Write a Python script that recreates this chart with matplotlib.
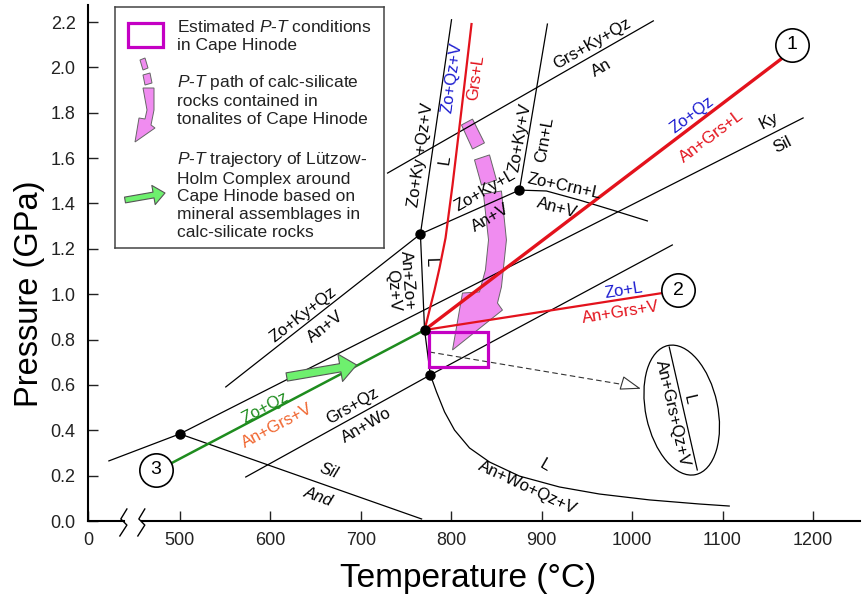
import numpy as np
import matplotlib.pyplot as plt
from matplotlib.patches import Polygon, Rectangle, Ellipse, FancyArrowPatch
from matplotlib.transforms import ScaledTranslation

plt.rcParams['font.family'] = ['Liberation Sans', 'DejaVu Sans']
plt.rcParams['mathtext.fontset'] = 'custom'
plt.rcParams['mathtext.it'] = 'Liberation Sans:italic'
plt.rcParams['mathtext.rm'] = 'Liberation Sans'

# ---- data (T in degC, P in GPa) ----
inv_T = [500, 766, 770.6, 777, 875.5]
inv_P = [0.384, 1.265, 0.842, 0.644, 1.459]

melt_T = [800.4, 766, 770.6, 777]
melt_P = [2.21, 1.265, 0.842, 0.644]
wo_melt_T = [777, 783.8, 792.7, 803.7, 820.3, 842.4, 875.5, 919.7, 963.8, 1019.1, 1074.3, 1107.4]
wo_melt_P = [0.644, 0.569, 0.481, 0.401, 0.322, 0.260, 0.198, 0.150, 0.119, 0.093, 0.075, 0.066]
zoky_T = [550.8, 766, 875.5, 905.3, 941.8, 978.2, 1016.9]
zoky_P = [0.591, 1.265, 1.459, 1.455, 1.415, 1.371, 1.323]
crn_T = [875.5, 906.4]
crn_P = [1.459, 2.191]
grsky_T = [729.7, 1023.5]
grsky_P = [1.534, 2.205]
kyand_T = [421.6, 500]
kyand_P = [0.265, 0.384]
andsil_T = [500, 767.3]
andsil_P = [0.384, 0.009]
kysil_T = [500, 1189.1]
kysil_P = [0.384, 1.777]
grsqz_T = [572.9, 777, 1044.5]
grsqz_P = [0.194, 0.644, 1.217]

grsl_T = [770.6, 776.1, 781.6, 787.1, 793.8, 801.5, 811.4, 822.5]
grsl_P = [0.842, 0.930, 1.018, 1.115, 1.248, 1.481, 1.812, 2.191]
path1_T = [770.6, 1164.8]
path1_P = [0.842, 2.037]
path2_T = [770.6, 1033.4]
path2_P = [0.842, 1.005]
path3_T = [491.2, 770.6]
path3_P = [0.256, 0.842]

circ_T = [1177, 1051, 473.5]
circ_P = [2.099, 1.018, 0.225]
circ_lab = ['1', '2', '3']

box_T = [775.0, 840.2]
box_P = [0.679, 0.833]

dash_T = [776.1, 1005.8]
dash_P = [0.745, 0.591]

ell_T, ell_P = 1054.9, 0.489
ell_line_T = [1041.1, 1072.1]
ell_line_P = [0.767, 0.225]

pink1_T = [811.4, 823.6, 836.8, 823.6]
pink1_P = [1.746, 1.772, 1.667, 1.640]
pink2_T = [825.8, 842.4, 850.1, 833.5]
pink2_P = [1.592, 1.614, 1.503, 1.481]
pink3_T = [835.7, 841.3, 837.9, 831.3, 812.5, 801.5, 856.7, 851.2, 855.6, 861.1, 855.6]
pink3_P = [1.442, 1.239, 1.107, 1.010, 1.005, 0.754, 0.930, 0.961, 1.032, 1.239, 1.455]

garrow_T = [618.2, 695.5]
garrow_P = [0.635, 0.688]

xticks = [398.5, 500, 600, 700, 800, 900, 1000, 1100, 1200]
xtick_labels = ['0', '500', '600', '700', '800', '900', '1000', '1100', '1200']
yticks = [0.0, 0.2, 0.4, 0.6, 0.8, 1.0, 1.2, 1.4, 1.6, 1.8, 2.0, 2.2]

RED = '#e3121c'
BLUE = '#1c1cd0'
GREEN = '#1e8c1e'
ORANGE = '#f0642d'
MAG = '#c400c4'
PINK = '#f08cf0'

labels = [
    ("Grs+Ky+Qz", 956, 2.103, 30, 'k'),
    ("An", 966, 1.997, 30, 'k'),
    ("Zo+Ky +Qz+V", 766, 1.614, 82, 'k'),
    ("L", 792.7, 1.592, 82, 'k'),
    ("Zo+Qz+V", 801.5, 1.953, 82, BLUE),
    ("Grs+L", 826.9, 1.953, 82, RED),
    ("Zo+Ky+V", 876.6, 1.689, 80, 'k'),
    ("Crn+L", 903.1, 1.680, 80, 'k'),
    ("Zo+Ky+L", 838, 1.455, 30, 'k'),
    ("An+V", 843.5, 1.336, 30, 'k'),
    ("Zo+Crn+L", 925.2, 1.473, -12, 'k'),
    ("An+V", 917.5, 1.380, -15, 'k'),
    ("Zo+Qz", 1066.6, 1.790, 37, BLUE),
    ("An+Grs+L", 1087.5, 1.693, 37, RED),
    ("Ky", 1151.6, 1.764, 27, 'k'),
    ("Sil", 1166.0, 1.658, 27, 'k'),
    ("Zo+Ky+Qz", 637, 0.908, 38, 'k'),
    ("An+V", 661.2, 0.855, 38, 'k'),
    ("L", 777.2, 1.142, -88, 'k'),
    ("Zo+Qz", 593.9, 0.498, 28, GREEN),
    ("An+Grs+V", 608.2, 0.419, 28, ORANGE),
    ("Grs+Qz", 691.1, 0.507, 30, 'k'),
    ("An+Wo", 706.5, 0.423, 30, 'k'),
    ("Zo+L", 990.4, 1.018, 9, BLUE),
    ("An+Grs+V", 987.0, 0.921, 9, RED),
    ("L", 903.1, 0.243, -30, 'k'),
    ("An+Wo+Qz+V", 884.3, 0.145, -25, 'k'),
    ("An+Grs+Qz+V", 1044.5, 0.476, -77, 'k'),
    ("L", 1063.2, 0.534, -77, 'k'),
]
italic_labels = [("Sil", 664.6, 0.220, -20), ("And", 653.5, 0.106, -20)]

fig = plt.figure(figsize=(8.64, 5.95), dpi=100)
ax = fig.add_axes([88/864, 1-521/595, 772/864, 516/595])
ax.set_xlim(398.5, 1252)
ax.set_ylim(0, 2.275)

for s in ['top', 'right', 'bottom']:
    ax.spines[s].set_visible(False)
ax.spines['left'].set_linewidth(1.5)
ax.set_xticks(xticks)
ax.set_xticklabels(xtick_labels)
ax.set_yticks(yticks)
ax.set_yticklabels(['%.1f' % v for v in yticks])
ax.tick_params(direction='in', length=7, width=1, labelsize=13, colors='#222222')
ax.tick_params(axis='x', pad=8)
ax.tick_params(axis='y', pad=9)

# broken x axis
ax.plot([398.5, 438.2], [0, 0], color='k', lw=1.5, clip_on=False)
ax.plot([458.0, 1252], [0, 0], color='k', lw=1.5, clip_on=False)
ax.plot([441.5, 434.8, 441.5, 433.7], [0.053, 0.009, -0.018, -0.066], color='k', lw=1, clip_on=False)
ax.plot([461.3, 454.7, 461.3, 453.6], [0.053, 0.009, -0.018, -0.066], color='k', lw=1, clip_on=False)

# pink P-T path of calc-silicate rocks
for pt, pp in [(pink1_T, pink1_P), (pink2_T, pink2_P), (pink3_T, pink3_P)]:
    ax.add_patch(Polygon(np.column_stack([pt, pp]), closed=True, fc=PINK, ec='#666666', lw=0.7, zorder=1))

# black reaction lines
for bt, bp in [(melt_T, melt_P), (wo_melt_T, wo_melt_P), (zoky_T, zoky_P), (crn_T, crn_P),
               (grsky_T, grsky_P), (kyand_T, kyand_P), (andsil_T, andsil_P),
               (kysil_T, kysil_P), (grsqz_T, grsqz_P)]:
    ax.plot(bt, bp, color='k', lw=0.9, zorder=2)

# coloured reaction lines
ax.plot(grsl_T, grsl_P, color=RED, lw=1.6, zorder=3)
ax.plot(path1_T, path1_P, color=RED, lw=2.4, zorder=3)
ax.plot(path2_T, path2_P, color=RED, lw=1.6, zorder=3)
ax.plot(path3_T, path3_P, color=GREEN, lw=1.8, zorder=3)

# green arrow
ax.add_patch(FancyArrowPatch((garrow_T[0], garrow_P[0]), (garrow_T[1], garrow_P[1]),
                             arrowstyle='simple,head_length=0.6,head_width=1.0,tail_width=0.3',
                             mutation_scale=20, fc='#6ef06e', ec='#555555', lw=0.8,
                             shrinkA=0, shrinkB=0, zorder=4))

# dashed arrow to the inset ellipse
ax.plot(dash_T, dash_P, color='#333333', lw=0.8, ls=(0, (5, 3)), zorder=3)
ax.annotate('', xy=(dash_T[1] + 4, dash_P[1] - 0.008), xytext=(dash_T[1] - 6, dash_P[1] + 0.004),
            arrowprops=dict(arrowstyle='-|>,head_length=1.3,head_width=0.45', fc='white',
                            ec='#333333', lw=0.8, shrinkA=0, shrinkB=0), zorder=3)

# estimated P-T box
ax.add_patch(Rectangle((box_T[0], box_P[0]), box_T[1] - box_T[0], box_P[1] - box_P[0],
                       fill=False, ec=MAG, lw=2.3, zorder=5))

# invariant points
ax.plot(inv_T, inv_P, 'o', color='k', ms=6.5, zorder=6)

# numbered path ends
ax.plot(circ_T, circ_P, 'o', ms=24, mfc='white', mec='k', mew=1.2, zorder=7)
for t, p, s in zip(circ_T, circ_P, circ_lab):
    ax.text(t, p, s, ha='center', va='center', fontsize=14, zorder=8)

# inset ellipse
ell_tr = fig.dpi_scale_trans + ScaledTranslation(ell_T, ell_P, ax.transData)
ax.add_patch(Ellipse((0, 0), 0.72, 1.32, angle=12, fill=False, ec='k', lw=0.9, transform=ell_tr))
ax.plot(ell_line_T, ell_line_P, color='k', lw=0.9)

for s, t, p, r, c in labels:
    ax.text(t, p, s, rotation=r, color=c, fontsize=12, ha='center', va='center',
            rotation_mode='anchor', zorder=5)
for s, t, p, r in italic_labels:
    ax.text(t, p, s, rotation=r, fontsize=12, style='italic', ha='center', va='center',
            rotation_mode='anchor', zorder=5)
ax.text(743, 1.058, "An+Zo+\nQz+V", rotation=-86, fontsize=12, ha='center', va='center',
        multialignment='right', linespacing=1.0, rotation_mode='anchor', zorder=5)

fig.text(468/864, 1 - 578/595, 'Temperature (°C)', ha='center', va='center', fontsize=24)
fig.text(30/864, 1 - 294/595, 'Pressure (GPa)', ha='center', va='center', fontsize=23.5, rotation=90)

# ---- legend panel ----
lg = fig.add_axes([115/864, 1 - 248/595, 269/864, 241/595])
lg.set_xlim(0, 269)
lg.set_ylim(241, 0)
lg.set_xticks([])
lg.set_yticks([])
for s in lg.spines.values():
    s.set_linewidth(1.1)
    s.set_edgecolor('#444444')

lg.add_patch(Rectangle((13, 16), 35, 24, fill=False, ec=MAG, lw=2.3))
leg_p1 = [(25, 53), (30, 51), (33, 61), (28, 63)]
leg_p2 = [(28, 68), (35, 66), (37, 76), (30, 78)]
leg_p3 = [(28, 81), (32, 103), (30, 112), (24, 111), (20, 135), (40, 121), (36, 118), (39, 103), (39, 81)]
for pts in [leg_p1, leg_p2, leg_p3]:
    lg.add_patch(Polygon(pts, closed=True, fc=PINK, ec='#666666', lw=0.7))
lg.add_patch(FancyArrowPatch((10, 193), (50, 186),
                             arrowstyle='simple,head_length=0.6,head_width=1.0,tail_width=0.3',
                             mutation_scale=14, fc='#6ef06e', ec='#555555', lw=0.8,
                             shrinkA=0, shrinkB=0))

leg_txt = dict(fontsize=12.5, ha='left', va='center', linespacing=1.24, color='#222222')
lg.text(62, 29, 'Estimated $P$-$T$ conditions\nin Cape Hinode', **leg_txt)
lg.text(62, 93, '$P$-$T$ path of calc-silicate\nrocks contained in\ntonalites of Cape Hinode', **leg_txt)
lg.text(62, 188, '$P$-$T$ trajectory of Lützow-\nHolm Complex around\nCape Hinode based on\n'
        'mineral assemblages in\ncalc-silicate rocks', **leg_txt)

fig.savefig('out.png', dpi=100)
